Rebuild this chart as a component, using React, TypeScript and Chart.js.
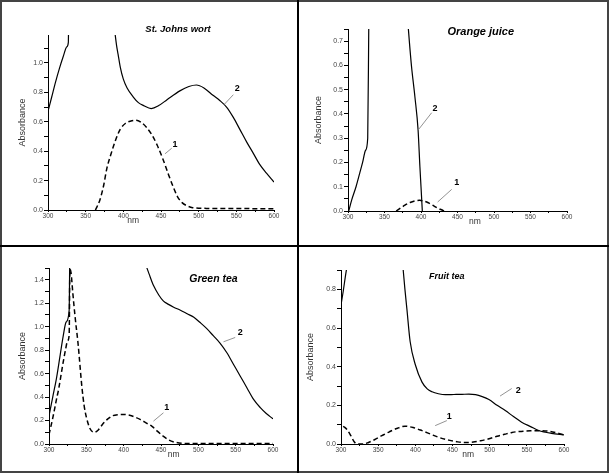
import React, { useEffect, useRef } from 'react';
import { Chart, registerables } from 'chart.js';

Chart.register(...registerables);

const FONT = '"Liberation Sans", Arial, Helvetica, sans-serif';

// ---------- shared x axis ----------
const xTickValues = [300, 325, 350, 375, 400, 425, 450, 475, 500, 525, 550, 575, 600];
const xTickLabels = ['300', '', '350', '', '400', '', '450', '', '500', '', '550', '', '600'];

// ---------- St. Johns wort ----------
const sjwSolidLeftNm = [300, 305, 310, 315, 320, 325, 327, 327.4];
const sjwSolidLeftAbs = [0.67, 0.77, 0.87, 0.96, 1.04, 1.11, 1.14, 1.3];
const sjwSolidRightNm = [388.5, 391, 393, 396, 400, 405, 413, 420, 427, 437, 447, 458, 475, 487, 497, 507, 519, 528, 537, 546, 555, 564, 572, 581, 590, 600];
const sjwSolidRightAbs = [1.22, 1.12, 1.06, 0.97, 0.89, 0.83, 0.77, 0.73, 0.71, 0.69, 0.71, 0.75, 0.81, 0.84, 0.85, 0.83, 0.78, 0.745, 0.70, 0.63, 0.545, 0.46, 0.39, 0.31, 0.25, 0.19];
const sjwDashNm = [363, 369, 374, 378, 383, 390, 396, 403, 410, 417, 424, 431, 438, 445, 453, 460, 466, 472, 478, 484, 492, 510, 550, 600];
const sjwDashAbs = [0, 0.07, 0.17, 0.28, 0.37, 0.48, 0.55, 0.59, 0.605, 0.61, 0.595, 0.56, 0.51, 0.44, 0.34, 0.24, 0.16, 0.09, 0.05, 0.03, 0.016, 0.011, 0.01, 0.008];
const sjwYTickValues = [0, 0.1, 0.2, 0.3, 0.4, 0.5, 0.6, 0.7, 0.8, 0.9, 1.0, 1.1];
const sjwYTickLabels = ['0.0', '', '0.2', '', '0.4', '', '0.6', '', '0.8', '', '1.0', ''];

// ---------- Orange juice ----------
const ojSolidLeftNm = [301, 305, 311, 316, 320, 324, 327, 328.5];
const ojSolidLeftAbs = [0, 0.045, 0.10, 0.155, 0.20, 0.25, 0.30, 0.78];
const ojSolidRightNm = [382.2, 384, 387, 391.6, 396, 398.5, 400, 401.8];
const ojSolidRightAbs = [0.77, 0.70, 0.596, 0.472, 0.334, 0.182, 0.10, 0];
const ojDashNm = [366, 372, 378, 385, 392, 398, 404, 410, 416, 422, 428, 432];
const ojDashAbs = [0, 0.012, 0.024, 0.035, 0.042, 0.044, 0.041, 0.034, 0.024, 0.013, 0.005, 0];
const ojYTickValues = [0, 0.05, 0.1, 0.15, 0.2, 0.25, 0.3, 0.35, 0.4, 0.45, 0.5, 0.55, 0.6, 0.65, 0.7, 0.75];
const ojYTickLabels = ['0.0', '', '0.1', '', '0.2', '', '0.3', '', '0.4', '', '0.5', '', '0.6', '', '0.7', ''];

// ---------- Green tea ----------
const gtSolidLeftNm = [300, 305, 310, 315, 319, 323, 327, 327.8];
const gtSolidLeftAbs = [0.24, 0.40, 0.56, 0.76, 0.92, 1.04, 1.14, 1.6];
const gtSolidRightNm = [430, 434, 440, 447, 453, 460, 467, 476, 485, 494, 502, 511, 520, 529, 538, 547, 556, 565, 574, 583, 591, 600];
const gtSolidRightAbs = [1.52, 1.45, 1.35, 1.27, 1.22, 1.19, 1.166, 1.14, 1.11, 1.08, 1.037, 0.985, 0.923, 0.86, 0.78, 0.68, 0.58, 0.48, 0.38, 0.31, 0.26, 0.214];
const gtDashNm = [300, 305, 310, 313, 318, 322, 325, 327, 328, 329.5, 332, 335, 339, 344, 347, 350, 355, 361, 366, 372, 378, 385, 392, 400, 408, 415, 422, 430, 438, 445, 453, 460, 471, 485, 600];
const gtDashAbs = [0.08, 0.22, 0.38, 0.47, 0.66, 0.80, 0.88, 0.93, 1.49, 1.46, 1.28, 1.08, 0.85, 0.49, 0.33, 0.23, 0.13, 0.10, 0.12, 0.17, 0.21, 0.24, 0.25, 0.252, 0.245, 0.23, 0.21, 0.18, 0.15, 0.11, 0.066, 0.035, 0.012, 0.005, 0.005];
const gtYTickValues = [0, 0.1, 0.2, 0.3, 0.4, 0.5, 0.6, 0.7, 0.8, 0.9, 1.0, 1.1, 1.2, 1.3, 1.4, 1.5];
const gtYTickLabels = ['0.0', '', '0.2', '', '0.4', '', '0.6', '', '0.8', '', '1.0', '', '1.2', '', '1.4', ''];

// ---------- Fruit tea ----------
const ftSolidLeftNm = [300, 303, 306, 308.5];
const ftSolidLeftAbs = [0.72, 0.79, 0.87, 0.93];
const ftSolidRightNm = [383, 386, 388.6, 393, 400, 409, 416, 422.5, 431, 440.5, 452, 463, 472, 481, 490, 499, 510, 521, 532, 543, 555, 566, 583, 600];
const ftSolidRightAbs = [0.93, 0.80, 0.70, 0.53, 0.41, 0.32, 0.285, 0.27, 0.26, 0.255, 0.256, 0.257, 0.258, 0.255, 0.245, 0.23, 0.20, 0.173, 0.142, 0.113, 0.09, 0.07, 0.055, 0.047];
const ftDashNm = [303, 308, 313, 318, 322, 330, 337, 345, 355, 365, 375, 386, 397, 409, 420, 431, 445, 457, 467, 478, 488, 498, 510, 520, 530, 545, 555, 566, 580, 590, 600];
const ftDashAbs = [0.092, 0.075, 0.045, 0.01, 0, 0, 0.008, 0.022, 0.043, 0.063, 0.08, 0.092, 0.085, 0.069, 0.052, 0.035, 0.02, 0.011, 0.008, 0.01, 0.017, 0.026, 0.04, 0.05, 0.06, 0.066, 0.068, 0.069, 0.066, 0.058, 0.047];
const ftYTickValues = [0, 0.1, 0.2, 0.3, 0.4, 0.5, 0.6, 0.7, 0.8, 0.9];
const ftYTickLabels = ['0.0', '', '0.2', '', '0.4', '', '0.6', '', '0.8', ''];

type Curve = { nm: number[]; abs: number[]; dashed: boolean };
type Label = { text: string; at: [number, number]; from: [number, number]; to: [number, number] };
type Panel = {
  title: string;
  titleSize: number;
  titleAt: [number, number];
  yMax: number;
  yTicks: number[];
  yLabels: string[];
  curves: Curve[];
  labels: Label[];
  nmAt: number;
  absOffset: number;
  rect: { left: number; top: number; width: number; height: number };
  area: { left: number; top: number; right: number; bottom: number };
};

const panels: Panel[] = [
  {
    title: 'St. Johns wort',
    titleSize: 9.5,
    titleAt: [472.6, 1.227],
    yMax: 1.19,
    yTicks: sjwYTickValues,
    yLabels: sjwYTickLabels,
    curves: [
      { nm: sjwSolidLeftNm, abs: sjwSolidLeftAbs, dashed: false },
      { nm: sjwSolidRightNm, abs: sjwSolidRightAbs, dashed: false },
      { nm: sjwDashNm, abs: sjwDashAbs, dashed: true },
    ],
    labels: [
      { text: '2', at: [551.3, 0.823], from: [533.6, 0.716], to: [546, 0.784] },
      { text: '1', at: [468.6, 0.443], from: [455.3, 0.382], to: [464.2, 0.42] },
    ],
    nmAt: 413,
    absOffset: 25,
    rect: { left: 2, top: 2, width: 295, height: 243 },
    area: { left: 46, top: 33, right: 23, bottom: 35 },
  },
  {
    title: 'Orange juice',
    titleSize: 11,
    titleAt: [481.9, 0.739],
    yMax: 0.75,
    yTicks: ojYTickValues,
    yLabels: ojYTickLabels,
    curves: [
      { nm: ojSolidLeftNm, abs: ojSolidLeftAbs, dashed: false },
      { nm: ojSolidRightNm, abs: ojSolidRightAbs, dashed: false },
      { nm: ojDashNm, abs: ojDashAbs, dashed: true },
    ],
    labels: [
      { text: '2', at: [419.1, 0.424], from: [396.2, 0.334], to: [414.6, 0.405] },
      { text: '1', at: [448.9, 0.116], from: [422.8, 0.037], to: [442, 0.089] },
    ],
    nmAt: 474,
    absOffset: 29,
    rect: { left: 299, top: 2, width: 308, height: 243 },
    area: { left: 49, top: 27, right: 40, bottom: 34 },
  },
  {
    title: 'Green tea',
    titleSize: 10.5,
    titleAt: [520.3, 1.409],
    yMax: 1.5,
    yTicks: gtYTickValues,
    yLabels: gtYTickLabels,
    curves: [
      { nm: gtSolidLeftNm, abs: gtSolidLeftAbs, dashed: false },
      { nm: gtSolidRightNm, abs: gtSolidRightAbs, dashed: false },
      { nm: gtDashNm, abs: gtDashAbs, dashed: true },
    ],
    labels: [
      { text: '2', at: [556.1, 0.951], from: [533.7, 0.871], to: [549.4, 0.908] },
      { text: '1', at: [457.8, 0.308], from: [439.9, 0.195], to: [453.3, 0.266] },
    ],
    nmAt: 467,
    absOffset: 26,
    rect: { left: 2, top: 247, width: 295, height: 224 },
    area: { left: 47, top: 21, right: 24, bottom: 27 },
  },
  {
    title: 'Fruit tea',
    titleSize: 9,
    titleAt: [442.4, 0.868],
    yMax: 0.9,
    yTicks: ftYTickValues,
    yLabels: ftYTickLabels,
    curves: [
      { nm: ftSolidLeftNm, abs: ftSolidLeftAbs, dashed: false },
      { nm: ftSolidRightNm, abs: ftSolidRightAbs, dashed: false },
      { nm: ftDashNm, abs: ftDashAbs, dashed: true },
    ],
    labels: [
      { text: '2', at: [538.6, 0.278], from: [514, 0.248], to: [529.7, 0.287] },
      { text: '1', at: [445.5, 0.142], from: [426.7, 0.095], to: [442.4, 0.121] },
    ],
    nmAt: 471,
    absOffset: 30,
    rect: { left: 299, top: 247, width: 308, height: 224 },
    area: { left: 42, top: 23, right: 43, bottom: 27 },
  },
];

function PanelChart({ p }: { p: Panel }) {
  const ref = useRef<HTMLCanvasElement | null>(null);
  useEffect(() => {
    if (!ref.current) return;
    const annot = {
      id: 'annot',
      afterDraw(chart: any) {
        const { ctx, chartArea } = chart;
        const xs = chart.scales.x;
        const ys = chart.scales.y;
        ctx.save();
        ctx.fillStyle = '#000';
        ctx.textAlign = 'center';
        ctx.textBaseline = 'middle';
        ctx.font = `italic bold ${p.titleSize}px ${FONT}`;
        ctx.fillText(p.title, xs.getPixelForValue(p.titleAt[0]), ys.getPixelForValue(p.titleAt[1]));
        for (const l of p.labels) {
          ctx.strokeStyle = '#777';
          ctx.lineWidth = 0.8;
          ctx.beginPath();
          ctx.moveTo(xs.getPixelForValue(l.from[0]), ys.getPixelForValue(l.from[1]));
          ctx.lineTo(xs.getPixelForValue(l.to[0]), ys.getPixelForValue(l.to[1]));
          ctx.stroke();
          ctx.font = `bold 9px ${FONT}`;
          ctx.fillStyle = '#000';
          ctx.fillText(l.text, xs.getPixelForValue(l.at[0]), ys.getPixelForValue(l.at[1]));
        }
        ctx.fillStyle = '#333';
        ctx.font = `8.5px ${FONT}`;
        ctx.fillText('nm', xs.getPixelForValue(p.nmAt), chartArea.bottom + 11);
        ctx.translate(chartArea.left - p.absOffset, (chartArea.top + chartArea.bottom) / 2);
        ctx.rotate(-Math.PI / 2);
        ctx.font = `9px ${FONT}`;
        ctx.fillText('Absorbance', 0, 0);
        ctx.restore();
      },
    };
    const chart = new Chart(ref.current, {
      type: 'line',
      data: {
        datasets: p.curves.map((c) => ({
          data: c.nm.map((x, i) => ({ x, y: c.abs[i] })),
          borderColor: '#000',
          borderWidth: c.dashed ? 1.5 : 1.2,
          borderDash: c.dashed ? [5, 3] : [],
          pointRadius: 0,
          fill: false,
          tension: 0.4,
          cubicInterpolationMode: 'monotone',
        })),
      },
      options: {
        animation: false,
        responsive: false,
        maintainAspectRatio: false,
        events: [],
        layout: { padding: { left: 0, top: p.area.top, right: p.area.right, bottom: 0 } },
        plugins: { legend: { display: false }, tooltip: { enabled: false }, title: { display: false } },
        scales: {
          x: {
            type: 'linear',
            min: 300,
            max: 600,
            afterFit: (s: any) => { s.height = p.area.bottom; },
            afterBuildTicks: (s: any) => { s.ticks = xTickValues.map((v) => ({ value: v })); },
            ticks: {
              autoSkip: false,
              maxRotation: 0,
              padding: 0,
              color: '#444',
              font: { family: FONT, size: 6.5 },
              callback: (_v: any, i: number) => xTickLabels[i],
            },
            grid: { drawOnChartArea: false, drawTicks: true, tickLength: 2, color: '#000' },
            border: { display: true, color: '#000', width: 1 },
          },
          y: {
            type: 'linear',
            min: 0,
            max: p.yMax,
            afterFit: (s: any) => { s.width = p.area.left; },
            afterBuildTicks: (s: any) => { s.ticks = p.yTicks.map((v) => ({ value: v })); },
            ticks: {
              autoSkip: false,
              padding: 1,
              color: '#444',
              font: { family: FONT, size: 7 },
              callback: (_v: any, i: number) => p.yLabels[i],
            },
            grid: { drawOnChartArea: false, drawTicks: true, tickLength: 4, color: '#000' },
            border: { display: true, color: '#000', width: 1 },
          },
        },
      } as any,
      plugins: [annot],
    });
    return () => chart.destroy();
  }, [p]);
  return (
    <canvas
      ref={ref}
      width={p.rect.width}
      height={p.rect.height}
      style={{ position: 'absolute', left: p.rect.left, top: p.rect.top, width: p.rect.width, height: p.rect.height }}
    />
  );
}

export default function App() {
  return (
    <div style={{ position: 'absolute', left: 0, top: 0, width: 610, height: 473, background: '#fff' }}>
      <div style={{ position: 'absolute', left: 0, top: 0, width: 609, height: 473, border: '2px solid #444', boxSizing: 'border-box' }} />
      <div style={{ position: 'absolute', left: 297, top: 0, width: 2, height: 473, background: '#000' }} />
      <div style={{ position: 'absolute', left: 0, top: 245, width: 609, height: 2, background: '#000' }} />
      {panels.map((p) => (
        <PanelChart key={p.title} p={p} />
      ))}
    </div>
  );
}
